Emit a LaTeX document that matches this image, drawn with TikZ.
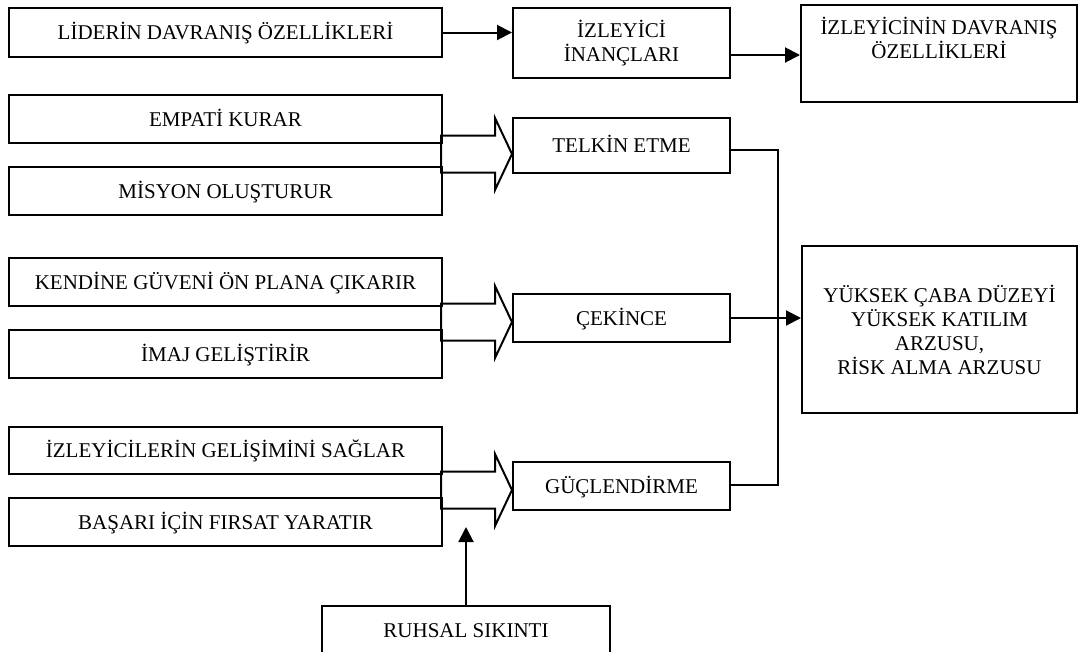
\documentclass[tikz,border=0pt]{standalone}
\usepackage{fontspec}
\setmainfont{Liberation Serif}
\usetikzlibrary{arrows.meta}
\tikzset{
  lw/.style={line width=2pt},
  box/.style={draw, lw, rectangle, inner sep=0pt, align=center,
    font=\fontsize{21}{24}\selectfont},
  onebox/.style={box, text height=14pt, text depth=0pt},
  arr/.style={lw, -{Triangle[length=15pt,width=15pt]}},
  conn/.style={lw},
  hollowarrow/.pic={
    \draw[lw, line join=miter] (-71,-18.5) -- (-17,-18.5) -- (-17,-36) -- (0,0)
      -- (-17,36) -- (-17,18.5) -- (-71,18.5) -- cycle;
  }
}
\begin{document}
\begin{tikzpicture}[x=1pt,y=-1pt]
\useasboundingbox (0,0) rectangle (1082,651);
\clip (0,0) rectangle (1082,651);

% left column
\node[onebox, minimum width=433, minimum height=49] (lider)  at (225.5,32.5) {LİDERİN DAVRANIŞ ÖZELLİKLERİ};
\node[onebox, minimum width=433, minimum height=48] (empati) at (225.5,119) {EMPATİ KURAR};
\node[onebox, minimum width=433, minimum height=48] (misyon) at (225.5,191) {MİSYON OLUŞTURUR};
\node[onebox, minimum width=433, minimum height=48] (kendine) at (225.5,282) {KENDİNE GÜVENİ ÖN PLANA ÇIKARIR};
\node[onebox, minimum width=433, minimum height=48] (imaj)   at (225.5,354) {İMAJ GELİŞTİRİR};
\node[onebox, minimum width=433, minimum height=47] (izlgel) at (225.5,450.5) {İZLEYİCİLERİN GELİŞİMİNİ SAĞLAR};
\node[onebox, minimum width=433, minimum height=48] (basari) at (225.5,522) {BAŞARI İÇİN FIRSAT YARATIR};

% middle column
\node[box, minimum width=217, minimum height=70] (inanc) at (621.5,43) {İZLEYİCİ\\İNANÇLARI};
\node[onebox, minimum width=217, minimum height=55] (telkin) at (621.5,145.5) {TELKİN ETME};
\node[onebox, minimum width=217, minimum height=48] (cekince) at (621.5,318) {ÇEKİNCE};
\node[onebox, minimum width=217, minimum height=48] (guc) at (621.5,486) {GÜÇLENDİRME};

% right column
\node[box, minimum width=276, minimum height=97] (izldav) at (939,53.5) {İZLEYİCİNİN DAVRANIŞ\\ÖZELLİKLERİ\\\strut};
\node[box, minimum width=275, minimum height=167] (sonuc) at (939.5,329.5) {YÜKSEK ÇABA DÜZEYİ\\YÜKSEK KATILIM\\ARZUSU,\\RİSK ALMA ARZUSU};

% bottom
\node[onebox, minimum width=288, minimum height=48] (ruhsal) at (466,630) {RUHSAL SIKINTI};

% hollow block arrows
\pic at (telkin.west |- 0,154) {hollowarrow};
\pic at (cekince.west |- 0,322) {hollowarrow};
\pic at (guc.west |- 0,490) {hollowarrow};

% top arrows
\draw[arr] (lider.east) -- (inanc.west |- lider.east);
\draw[arr] (inanc.east |- 0,55) -- (izldav.west |- 0,55);

% bus to result
\coordinate (busT) at (778,150);
\coordinate (busB) at (778,485);
\draw[conn, line join=miter] (telkin.east |- busT) -- (busT) -- (busB) -- (guc.east |- busB);
\draw[arr] (cekince.east) -- (sonuc.west |- cekince.east);

% ruhsal arrow
\coordinate (rtip) at (466,527);
\draw[arr] (ruhsal.north) -- (rtip);
\end{tikzpicture}
\end{document}
